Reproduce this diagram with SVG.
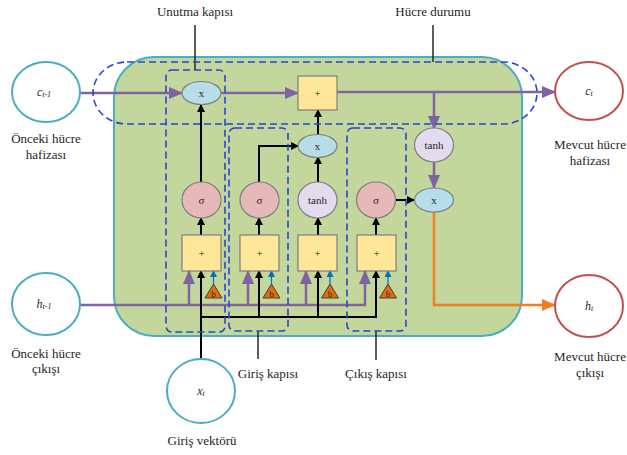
<svg xmlns="http://www.w3.org/2000/svg" width="627" height="455" viewBox="0 0 627 455" font-family="'Liberation Serif','Times New Roman',serif">
<defs>
<style>
text{font-family:"Liberation Serif","Times New Roman",serif;fill:#262626}
.lbl{font-size:13px;text-anchor:middle}
.nt{font-size:11px;text-anchor:middle;dominant-baseline:central}
.it{font-style:italic;font-size:12px}
.dash{fill:none;stroke:#2a45d0;stroke-width:1.6;stroke-dasharray:7,4}
.io{fill:#fff;stroke:#4bacc6;stroke-width:2}
.ior{fill:#fff;stroke:#c0504d;stroke-width:2}
.sig{fill:#e6b9b8;stroke:#7f7f7f;stroke-width:1.2}
.tanh{fill:#e2dcee;stroke:#7f7f7f;stroke-width:1.2}
.mul{fill:#b7dde8;stroke:#7f7f7f;stroke-width:1.2}
.add{fill:#ffe699;stroke:#7f7f7f;stroke-width:1.2}
.bias{fill:#e36c09;stroke:#404040;stroke-width:1}
.blk{fill:none;stroke:#000;stroke-width:2}
.pur{fill:none;stroke:#8064a2;stroke-width:2.5}
.org{fill:none;stroke:#f07f22;stroke-width:2.5}
.blu{fill:none;stroke:#0070c0;stroke-width:1.2}
.ptr{fill:none;stroke:#262626;stroke-width:1.5}
</style>
<marker id="ab" markerWidth="8" markerHeight="8" refX="7" refY="4" orient="auto" markerUnits="userSpaceOnUse"><path d="M0,0 L8,4 L0,8 Z" fill="#000"/></marker>
<marker id="ap" markerWidth="14" markerHeight="12" refX="13" refY="6" orient="auto" markerUnits="userSpaceOnUse"><path d="M0,0 L14,6 L0,12 Z" fill="#8064a2"/></marker>
<marker id="ao" markerWidth="14" markerHeight="12" refX="13" refY="6" orient="auto" markerUnits="userSpaceOnUse"><path d="M0,0 L14,6 L0,12 Z" fill="#f07f22"/></marker>
<marker id="abl" markerWidth="7" markerHeight="7" refX="6" refY="3.5" orient="auto" markerUnits="userSpaceOnUse"><path d="M0,0 L7,3.5 L0,7 Z" fill="#0070c0"/></marker>
</defs>
<rect width="627" height="455" fill="#fff"/>

<g id="cell">
<rect x="114" y="57" width="408" height="279" rx="40" ry="40" fill="#c3d69b" stroke="#4bacc6" stroke-width="2"/>
</g>

<g id="connectors">
<line class="pur" x1="80" y1="93" x2="182" y2="93" marker-end="url(#ap)"/>
<line class="pur" x1="221" y1="93" x2="298" y2="93" marker-end="url(#ap)"/>
<line class="pur" x1="337" y1="92" x2="555" y2="92" marker-end="url(#ap)"/>
<line class="pur" x1="434" y1="92" x2="434" y2="129" marker-end="url(#ap)"/>
<line class="pur" x1="434" y1="162" x2="434" y2="188" marker-end="url(#ap)"/>
<line class="pur" x1="80" y1="305" x2="366" y2="305"/>
<line class="pur" x1="189" y1="305" x2="189" y2="271" marker-end="url(#ap)"/>
<line class="pur" x1="248" y1="305" x2="248" y2="271" marker-end="url(#ap)"/>
<line class="pur" x1="306" y1="305" x2="306" y2="271" marker-end="url(#ap)"/>
<line class="pur" x1="365" y1="305" x2="365" y2="271" marker-end="url(#ap)"/>
<line class="blk" x1="201" y1="359" x2="201" y2="271" marker-end="url(#ab)"/>
<polyline class="blk" points="201,317 376,317"/>
<line class="blk" x1="259" y1="317" x2="259" y2="271" marker-end="url(#ab)"/>
<line class="blk" x1="318" y1="317" x2="318" y2="271" marker-end="url(#ab)"/>
<line class="blk" x1="376" y1="318" x2="376" y2="271" marker-end="url(#ab)"/>
<line class="blk" x1="201" y1="235" x2="201" y2="218" marker-end="url(#ab)"/>
<line class="blk" x1="259" y1="235" x2="259" y2="218" marker-end="url(#ab)"/>
<line class="blk" x1="318" y1="235" x2="318" y2="218" marker-end="url(#ab)"/>
<line class="blk" x1="376" y1="235" x2="376" y2="218" marker-end="url(#ab)"/>
<line class="blk" x1="201" y1="182" x2="201" y2="105" marker-end="url(#ab)"/>
<polyline class="blk" points="259,182 259,146 298,146" marker-end="url(#ab)"/>
<line class="blk" x1="318" y1="182" x2="318" y2="157" marker-end="url(#ab)"/>
<line class="blk" x1="318" y1="135" x2="318" y2="110" marker-end="url(#ab)"/>
<line class="blk" x1="395" y1="200" x2="414" y2="200" marker-end="url(#ab)"/>
<line class="blu" x1="213.5" y1="284" x2="213.5" y2="271" marker-end="url(#abl)"/>
<line class="blu" x1="271.5" y1="284" x2="271.5" y2="271" marker-end="url(#abl)"/>
<line class="blu" x1="330" y1="284" x2="330" y2="271" marker-end="url(#abl)"/>
<line class="blu" x1="388" y1="284" x2="388" y2="271" marker-end="url(#abl)"/>
<polyline class="org" points="434,212 434,305 555,305" marker-end="url(#ao)"/>
<line class="ptr" x1="195" y1="25" x2="195" y2="70"/>
<line class="ptr" x1="433" y1="25" x2="433" y2="62"/>
<line class="ptr" x1="258" y1="331" x2="258" y2="359"/>
<line class="ptr" x1="376" y1="331" x2="376" y2="360"/>
</g>

<g id="dashed-regions">
<rect class="dash" x="93" y="62" width="444" height="62" rx="34" ry="31"/>
<rect class="dash" x="166" y="70" width="59" height="262" rx="6"/>
<rect class="dash" x="229" y="128" width="59" height="203" rx="6"/>
<rect class="dash" x="347" y="128" width="59" height="203" rx="6"/>
</g>

<g id="c_prev"><ellipse class="io" cx="46" cy="92" rx="34" ry="30"/><text class="nt it" x="44" y="92">c<tspan font-size="8" dy="2">t-1</tspan></text></g>
<g id="c_cur"><ellipse class="ior" cx="589" cy="91" rx="34" ry="29"/><text class="nt it" x="589" y="91">c<tspan font-size="8" dy="2">t</tspan></text></g>
<g id="h_prev"><ellipse class="io" cx="46" cy="304" rx="34" ry="31"/><text class="nt it" x="44" y="304">h<tspan font-size="8" dy="2">t-1</tspan></text></g>
<g id="h_cur"><ellipse class="ior" cx="589" cy="306" rx="34" ry="31"/><text class="nt it" x="589" y="306">h<tspan font-size="8" dy="2">t</tspan></text></g>
<g id="x_in"><ellipse class="io" cx="201" cy="391" rx="34" ry="32"/><text class="nt it" x="201" y="391">x<tspan font-size="8" dy="2">t</tspan></text></g>

<g id="mul_f"><ellipse class="mul" cx="201.5" cy="93" rx="19.5" ry="11.5"/><text class="nt" x="201.5" y="93">x</text></g>
<g id="add_c"><rect class="add" x="298" y="76" width="39" height="34"/><text class="nt" x="317.5" y="93">+</text></g>
<g id="mul_i"><ellipse class="mul" cx="317.5" cy="146" rx="19.5" ry="11.5"/><text class="nt" x="317.5" y="146">x</text></g>
<g id="tanh_c"><ellipse class="tanh" cx="434" cy="145" rx="19.5" ry="17"/><text class="nt" x="434" y="145">tanh</text></g>
<g id="mul_o"><ellipse class="mul" cx="434" cy="200" rx="19.5" ry="12"/><text class="nt" x="434" y="200">x</text></g>

<g id="sig_f"><ellipse class="sig" cx="201.5" cy="200" rx="19.5" ry="18"/><text class="nt" x="201.5" y="200">σ</text></g>
<g id="sig_i"><ellipse class="sig" cx="259.5" cy="200" rx="19.5" ry="18"/><text class="nt" x="259.5" y="200">σ</text></g>
<g id="tanh_g"><ellipse class="tanh" cx="317.5" cy="200" rx="19.5" ry="18"/><text class="nt" x="317.5" y="200">tanh</text></g>
<g id="sig_o"><ellipse class="sig" cx="376" cy="200" rx="19.5" ry="18"/><text class="nt" x="376" y="200">σ</text></g>

<g id="sum_f"><rect class="add" x="182" y="235" width="39" height="36"/><text class="nt" x="201.5" y="253">+</text></g>
<g id="sum_i"><rect class="add" x="240" y="235" width="39" height="36"/><text class="nt" x="259.5" y="253">+</text></g>
<g id="sum_g"><rect class="add" x="298" y="235" width="39" height="36"/><text class="nt" x="317.5" y="253">+</text></g>
<g id="sum_o"><rect class="add" x="357" y="235" width="39" height="36"/><text class="nt" x="376.5" y="253">+</text></g>

<g id="b_f"><polygon class="bias" points="213.5,284 205,298 222,298"/><text x="213.5" y="296.5" font-size="9" text-anchor="middle">b</text></g>
<g id="b_i"><polygon class="bias" points="271.5,284 263,298 280,298"/><text x="271.5" y="296.5" font-size="9" text-anchor="middle">b</text></g>
<g id="b_g"><polygon class="bias" points="330,284 321.5,298 338.5,298"/><text x="330" y="296.5" font-size="9" text-anchor="middle">b</text></g>
<g id="b_o"><polygon class="bias" points="388,284 379.5,298 396.5,298"/><text x="388" y="296.5" font-size="9" text-anchor="middle">b</text></g>

<g id="labels">
<text class="lbl" x="195" y="16">Unutma kapısı</text>
<text class="lbl" x="433" y="16">Hücre durumu</text>
<text class="lbl" x="46" y="143">Önceki hücre</text>
<text class="lbl" x="46" y="159">hafizası</text>
<text class="lbl" x="590" y="149">Mevcut hücre</text>
<text class="lbl" x="590" y="165">hafizası</text>
<text class="lbl" x="46" y="358">Önceki hücre</text>
<text class="lbl" x="46" y="373">çıkışı</text>
<text class="lbl" x="590" y="361">Mevcut hücre</text>
<text class="lbl" x="590" y="377">çıkışı</text>
<text class="lbl" x="268" y="378">Giriş kapısı</text>
<text class="lbl" x="376" y="378">Çıkış kapısı</text>
<text class="lbl" x="202" y="445">Giriş vektörü</text>
</g>
</svg>
